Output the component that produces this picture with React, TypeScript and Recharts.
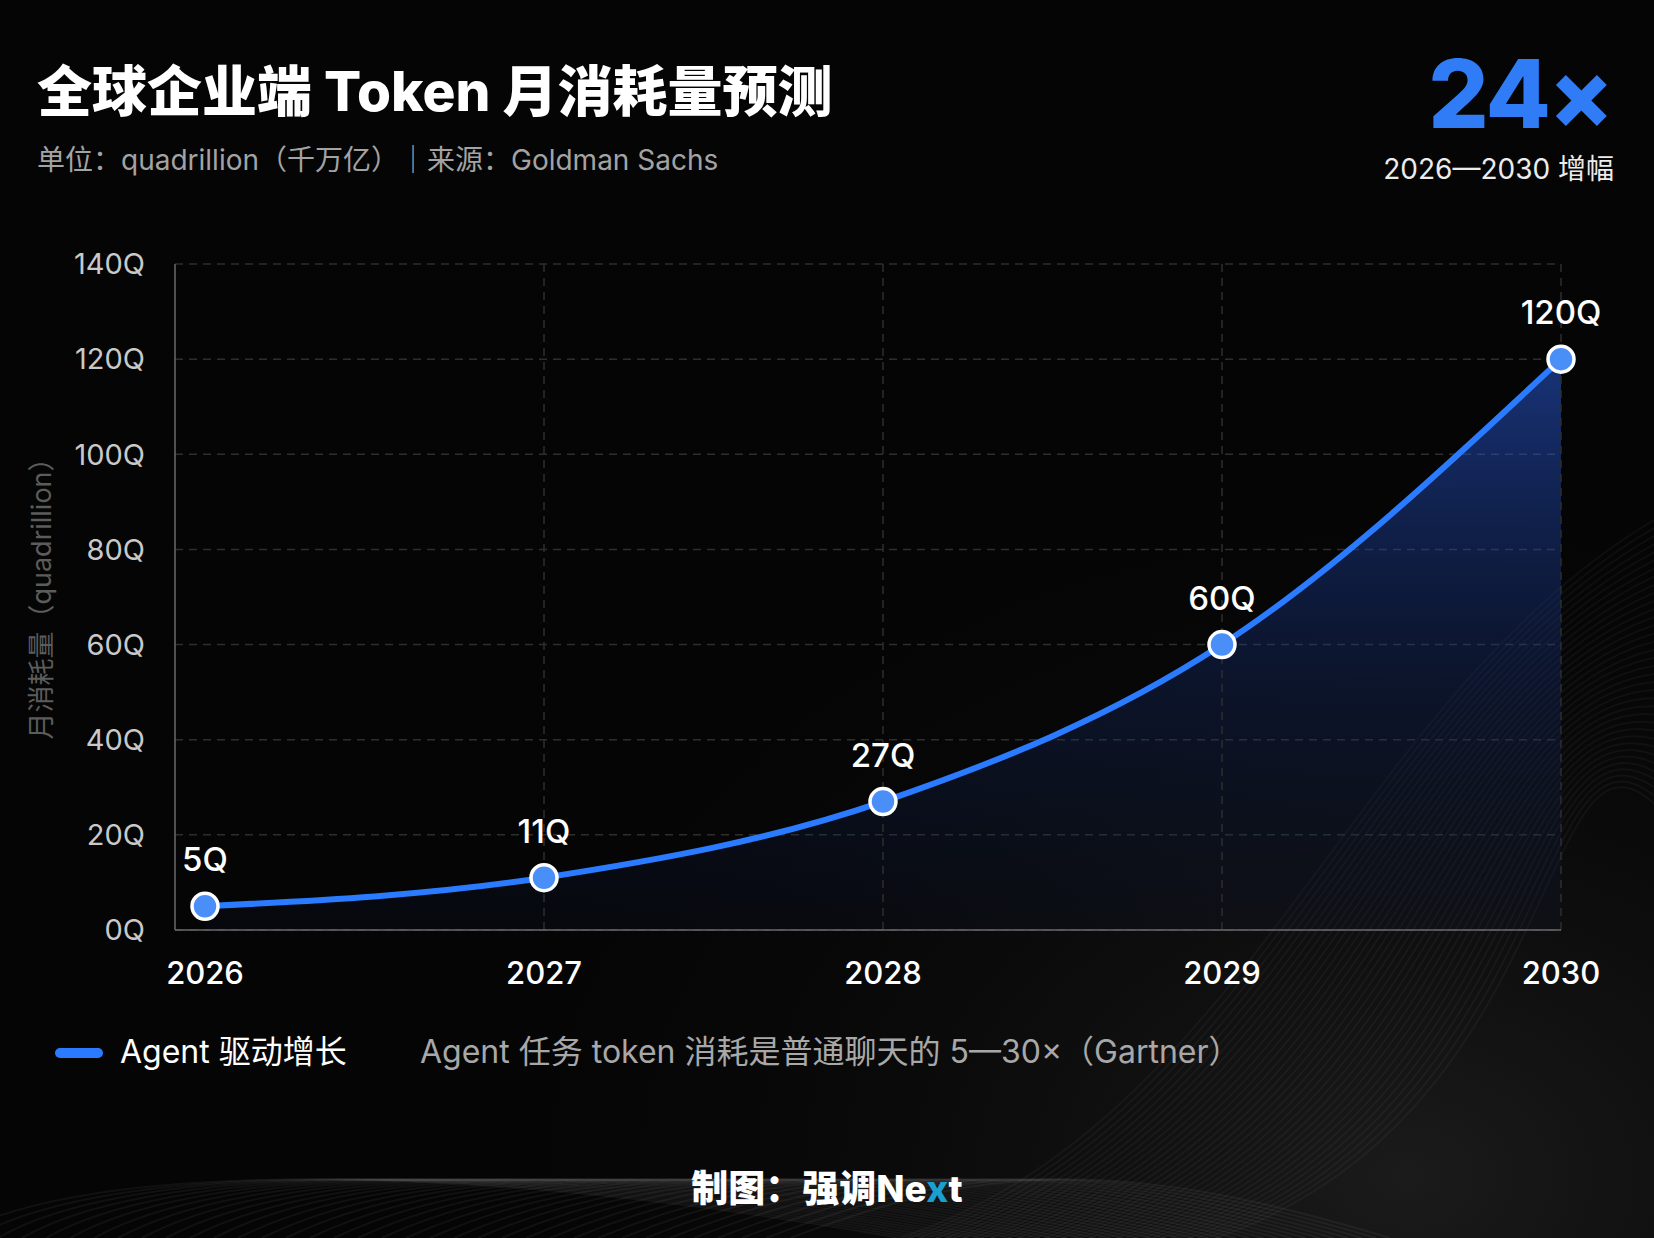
import React from "react";
import {
  ComposedChart,
  Area,
  XAxis,
  YAxis,
  CartesianGrid,
  ReferenceLine,
  LabelList,
} from "recharts";

// 月消耗量 (quadrillion), Goldman Sachs
const years = [2026, 2027, 2028, 2029, 2030];
const tokens = [5, 11, 27, 60, 120];
const yTicks = [0, 20, 40, 60, 80, 100, 120, 140];
const gridYears = [2027, 2028, 2029, 2030];

const data = years.map((year, i) => ({ year, tokens: tokens[i] }));

const FONT = "Inter, 'Noto Sans CJK SC', sans-serif";
const BLUE = "#2a7bff";

const ValueLabel = (props: any) => {
  const { x, y, value } = props;
  return (
    <text
      x={x}
      y={y - 35}
      textAnchor="middle"
      fill="#ffffff"
      fontSize={33}
      fontWeight={500}
      fontFamily={FONT}
    >
      {value}Q
    </text>
  );
};

const Dot = (props: any) => {
  const { cx, cy, index } = props;
  if (cx == null || cy == null) return null;
  return (
    <circle
      key={`dot-${index}`}
      cx={cx}
      cy={cy}
      r={13}
      fill="#4a8ef7"
      stroke="#ffffff"
      strokeWidth={3.5}
    />
  );
};

const Background = () => {
  // decorative wave lines behind the chart
  const lines = [];
  for (let i = 0; i < 36; i++) {
    const o = i * 9;
    lines.push(
      <path
        key={`r-${i}`}
        d={`M ${900 + o} 1238 C ${1250 + o} 1120, ${1350 + o * 0.6} 700, ${1654} ${520 + o * 0.9}`}
        stroke="#ffffff"
        strokeOpacity={0.04}
        strokeWidth={2}
        fill="none"
      />
    );
    lines.push(
      <path
        key={`b-${i}`}
        d={`M ${-50 + i * 24} 1238 C ${60 + i * 26} 1170, ${400 + i * 20} 1150, ${900 + i * 14} 1238`}
        stroke="#ffffff"
        strokeOpacity={0.05}
        strokeWidth={2}
        fill="none"
      />
    );
  }
  return (
    <svg
      width={1654}
      height={1238}
      style={{ position: "absolute", left: 0, top: 0 }}
    >
      <defs>
        <radialGradient id="glow" cx="0.85" cy="0.95" r="0.6">
          <stop offset="0%" stopColor="#2a2a2a" stopOpacity={0.6} />
          <stop offset="100%" stopColor="#050505" stopOpacity={0} />
        </radialGradient>
      </defs>
      <rect width={1654} height={1238} fill="#050505" />
      <rect width={1654} height={1238} fill="url(#glow)" />
      {lines}
    </svg>
  );
};

export default function App() {
  return (
    <div
      style={{
        position: "absolute",
        left: 0,
        top: 0,
        width: 1654,
        height: 1238,
        overflow: "hidden",
        background: "#050505",
        fontFamily: FONT,
      }}
    >
      <Background />

      <div
        style={{
          position: "absolute",
          left: 37,
          top: 55,
          fontSize: 55,
          fontWeight: 800,
          color: "#ffffff",
          lineHeight: "72px",
          whiteSpace: "nowrap",
        }}
      >
        全球企业端 Token 月消耗量预测
      </div>
      <div
        style={{
          position: "absolute",
          left: 37,
          top: 141,
          fontSize: 28,
          color: "#a3a3a3",
          lineHeight: "38px",
          whiteSpace: "nowrap",
        }}
      >
        单位：quadrillion（千万亿）｜来源：Goldman Sachs
      </div>

      <div
        style={{
          position: "absolute",
          right: 1654 - 1612,
          top: 42,
          fontSize: 95,
          fontWeight: 800,
          color: "#2f7cf6",
          lineHeight: "104px",
          letterSpacing: -2,
        }}
      >
        24×
      </div>
      <div
        style={{
          position: "absolute",
          right: 1654 - 1614,
          top: 150,
          fontSize: 28,
          color: "#ececec",
          lineHeight: "38px",
          whiteSpace: "nowrap",
        }}
      >
        2026—2030 增幅
      </div>

      <div
        style={{
          position: "absolute",
          left: 39,
          top: 592,
          transform: "translate(-50%, -50%) rotate(-90deg)",
          fontSize: 27,
          color: "#5c5c5c",
          whiteSpace: "nowrap",
        }}
      >
        月消耗量（quadrillion）
      </div>

      <div style={{ position: "absolute", left: 0, top: 0 }}>
        <ComposedChart
          width={1654}
          height={1000}
          data={data}
          margin={{ top: 264, right: 93, bottom: 0, left: 60 }}
        >
          <defs>
            <linearGradient id="areaFill" x1="0" y1="0" x2="0" y2="1">
              <stop offset="0%" stopColor="#2a60e6" stopOpacity={0.85} />
              <stop offset="50%" stopColor="#1a3a94" stopOpacity={0.5} />
              <stop offset="100%" stopColor="#0d1a3c" stopOpacity={0.25} />
            </linearGradient>
          </defs>
          <CartesianGrid
            vertical={false}
            stroke="#2e2e2e"
            strokeDasharray="8 6"
            strokeWidth={1.5}
          />
          {gridYears.map((y) => (
            <ReferenceLine
              key={y}
              x={y}
              stroke="#2e2e2e"
              strokeDasharray="8 6"
              strokeWidth={1.5}
            />
          ))}
          <XAxis
            dataKey="year"
            type="number"
            domain={[2026, 2030]}
            ticks={years}
            padding={{ left: 30, right: 0 }}
            height={70}
            tickLine={false}
            tickMargin={26}
            axisLine={{ stroke: "#6a6a6a", strokeWidth: 1.5 }}
            tick={{
              fill: "#ffffff",
              fontSize: 31,
              fontWeight: 500,
              fontFamily: FONT,
            }}
          />
          <YAxis
            width={115}
            domain={[0, 140]}
            ticks={yTicks}
            tickLine={false}
            tickMargin={24}
            axisLine={{ stroke: "#6a6a6a", strokeWidth: 1.5 }}
            tickFormatter={(v) => `${v}Q`}
            tick={{ fill: "#c9c9c9", fontSize: 29, fontFamily: FONT }}
          />
          <Area
            type="monotone"
            dataKey="tokens"
            stroke={BLUE}
            strokeWidth={6}
            fill="url(#areaFill)"
            isAnimationActive={false}
            dot={Dot}
            activeDot={false}
          >
            <LabelList dataKey="tokens" content={ValueLabel} />
          </Area>
        </ComposedChart>
      </div>

      <div
        style={{
          position: "absolute",
          left: 55,
          top: 1048,
          width: 48,
          height: 10,
          borderRadius: 5,
          background: BLUE,
        }}
      />
      <div
        style={{
          position: "absolute",
          left: 120,
          top: 1031,
          fontSize: 32,
          color: "#ffffff",
          lineHeight: "42px",
          whiteSpace: "nowrap",
        }}
      >
        Agent 驱动增长
      </div>
      <div
        style={{
          position: "absolute",
          left: 420,
          top: 1031,
          fontSize: 32,
          color: "#a8a8a8",
          lineHeight: "42px",
          whiteSpace: "nowrap",
        }}
      >
        Agent 任务 token 消耗是普通聊天的 5—30×（Gartner）
      </div>

      <div
        style={{
          position: "absolute",
          left: 0,
          width: 1654,
          top: 1165,
          textAlign: "center",
          fontSize: 37,
          fontWeight: 800,
          color: "#ffffff",
          lineHeight: "48px",
        }}
      >
        制图：强调Ne
        <span style={{ color: "#1a9fd0" }}>x</span>
        t
      </div>
    </div>
  );
}
